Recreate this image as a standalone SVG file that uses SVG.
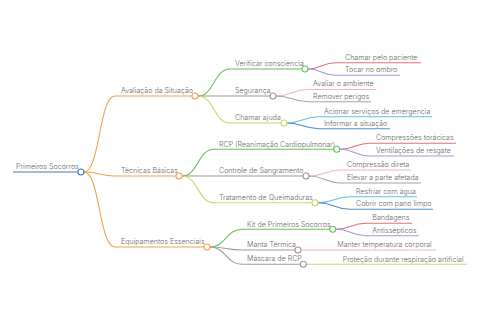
<svg xmlns="http://www.w3.org/2000/svg" width="480" height="320" viewBox="0 0 480 320">
<style>
text{font-family:Inter,"Liberation Sans",sans-serif;font-size:7.1px;fill:#6b6b6b;font-weight:300}
path{fill:none;stroke-width:1.1}
circle{fill:#fff;stroke-width:1.1}
.bl{stroke:#3f7db6}.or{stroke:#f4a04c}.gr{stroke:#6dbd5f}.mv{stroke:#a8939b}.yg{stroke:#c8d769}
.rd{stroke:#e2707a}.pu{stroke:#a896dc}.pk{stroke:#f0b3c8}.gm{stroke:#aaa0b0}.cy{stroke:#5ec4d8}.bu{stroke:#4b8ecb}.gp{stroke:#9d98aa}
</style>
<rect width="480" height="320" fill="#fff"/>
<g id="connectors">
<path class="bl" d="M13,172 H78"/>
<path class="or" d="M84,172 C100,172 99,96 115,96 H192"/>
<path class="or" d="M84,172 C100,172 99,176 115,176 H176"/>
<path class="or" d="M84,172 C100,172 99,247 115,247 H204"/>
<path class="gr" d="M198,96 C214,96 214,69 230,69 H302"/>
<path class="mv" d="M198,96 H270"/>
<path class="yg" d="M198,96 C214,96 214,123 230,123 H281"/>
<path class="rd" d="M308,69 C322,69 322,62.7 336,62.7 H421"/>
<path class="pu" d="M308,69 C322,69 322,75.3 336,75.3 H400"/>
<path class="pk" d="M276,96 C292,96 292,89.5 308,89.5 H376"/>
<path class="gm" d="M276,96 C292,96 292,101.7 308,101.7 H371"/>
<path class="cy" d="M287,123 C303,123 303,116.7 319,116.7 H432"/>
<path class="bu" d="M287,123 C303,123 303,128.7 319,128.7 H390"/>
<path class="gr" d="M182,176 C198,176 198,149.3 214,149.3 H333.7"/>
<path class="mv" d="M182,176 H303"/>
<path class="yg" d="M182,176 C198,176 198,202.7 214,202.7 H312"/>
<path class="rd" d="M339.7,149.3 C355,149.3 355,143.3 370,143.3 H456"/>
<path class="pu" d="M339.7,149.3 C355,149.3 355,156 370,156 H454"/>
<path class="pk" d="M309,176 C325,176 325,170 341,170 H411"/>
<path class="gm" d="M309,176 C325,176 325,183 341,183 H421"/>
<path class="cy" d="M318,202.7 C334,202.7 334,196.7 350,196.7 H417"/>
<path class="bu" d="M318,202.7 C334,202.7 334,209.3 350,209.3 H433"/>
<path class="gr" d="M210,247 C226,247 226,229.3 242,229.3 H329.7"/>
<path class="mv" d="M210,247 C226,247 226,250 242,250 H295"/>
<path class="gp" d="M210,247 C226,247 226,264.3 242,264.3 H300.3"/>
<path class="rd" d="M335.7,229.3 C351,229.3 351,223.3 366,223.3 H412"/>
<path class="pu" d="M335.7,229.3 C351,229.3 351,235.7 366,235.7 H419"/>
<path class="pk" d="M301,250 H436"/>
<path class="yg" d="M306.3,264.3 H467"/>
</g>
<g id="root"><text x="16" y="168.5">Primeiros Socorros</text><circle class="bl" cx="81" cy="172" r="3"/></g>
<g id="avaliacao"><text x="121" y="93">Avaliação da Situação</text><circle class="or" cx="195" cy="96" r="3"/></g>
<g id="tecnicas"><text x="121" y="173">Técnicas Básicas</text><circle class="or" cx="179" cy="176" r="3"/></g>
<g id="equipamentos"><text x="121" y="244">Equipamentos Essenciais</text><circle class="or" cx="207" cy="247" r="3"/></g>
<g id="verificar"><text x="235" y="66">Verificar consciência</text><circle class="gr" cx="305" cy="69" r="3"/></g>
<g id="seguranca"><text x="235" y="93">Segurança</text><circle class="mv" cx="273" cy="96" r="3"/></g>
<g id="chamar-ajuda"><text x="235" y="120">Chamar ajuda</text><circle class="yg" cx="284" cy="123" r="3"/></g>
<g id="chamar-paciente"><text x="345" y="59.5">Chamar pelo paciente</text></g>
<g id="tocar-ombro"><text x="345" y="72">Tocar no ombro</text></g>
<g id="avaliar-ambiente"><text x="313" y="86.3">Avaliar o ambiente</text></g>
<g id="remover-perigos"><text x="313" y="98.7">Remover perigos</text></g>
<g id="acionar"><text x="324" y="113.5">Acionar serviços de emergência</text></g>
<g id="informar"><text x="324" y="125.5">Informar a situação</text></g>
<g id="rcp"><text x="219" y="146.5">RCP (Reanimação Cardiopulmonar)</text><circle class="gr" cx="336.7" cy="149.3" r="3"/></g>
<g id="controle"><text x="219" y="173.3">Controle de Sangramento</text><circle class="mv" cx="306" cy="176" r="3"/></g>
<g id="tratamento"><text x="219" y="199.5">Tratamento de Queimaduras</text><circle class="yg" cx="315" cy="202.7" r="3"/></g>
<g id="compressoes"><text x="376" y="140">Compressões torácicas</text></g>
<g id="ventilacoes"><text x="376" y="153">Ventilações de resgate</text></g>
<g id="compressao-direta"><text x="347" y="167">Compressão direta</text></g>
<g id="elevar"><text x="347" y="180">Elevar a parte afetada</text></g>
<g id="resfriar"><text x="356" y="193.5">Resfriar com água</text></g>
<g id="cobrir"><text x="356" y="206.3">Cobrir com pano limpo</text></g>
<g id="kit"><text x="247" y="226.5">Kit de Primeiros Socorros</text><circle class="gr" cx="332.7" cy="229.3" r="3"/></g>
<g id="manta"><text x="247" y="247">Manta Térmica</text><circle class="mv" cx="298" cy="250" r="3"/></g>
<g id="mascara"><text x="247" y="261.3">Máscara de RCP</text><circle class="gp" cx="303.3" cy="264.3" r="3"/></g>
<g id="bandagens"><text x="372.3" y="220">Bandagens</text></g>
<g id="antissepticos"><text x="372.3" y="232.5">Antissépticos</text></g>
<g id="manter"><text x="337.3" y="247">Manter temperatura corporal</text></g>
<g id="protecao"><text x="342.7" y="261.5">Proteção durante respiração artificial</text></g>
</svg>
